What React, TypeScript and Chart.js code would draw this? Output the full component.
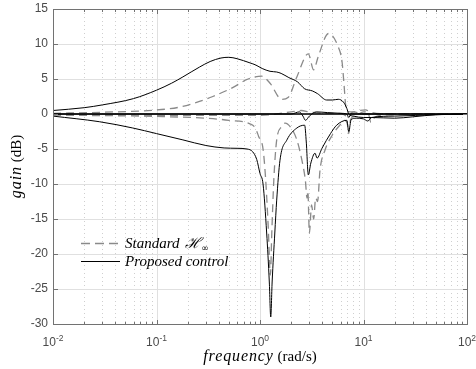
import React, { useEffect, useRef } from 'react';
import { Chart, registerables } from 'chart.js';
Chart.register(...registerables);

// ---- axis ticks ----
const xMajor = [0.01, 0.1, 1, 10, 100];
const xExp = ['-2', '-1', '0', '1', '2'];
const yMajor = [-30, -25, -20, -15, -10, -5, 0, 5, 10, 15];

// ---- Proposed control (solid) ----
const pUpFreq = [0.01, 0.02, 0.03, 0.06, 0.1, 0.14, 0.18, 0.26, 0.33, 0.42, 0.5, 0.6, 0.8, 0.91, 1.05, 1.25, 1.45, 1.6, 1.9, 2.3, 2.7, 3.2, 3.6, 4.4, 5.0, 5.7, 6.4, 6.9, 7.2, 8, 10, 12, 20, 30, 50, 100];
const pUpGain = [0.5, 0.9, 1.3, 2.2, 3.4, 4.4, 5.3, 6.7, 7.5, 8.0, 8.1, 7.9, 7.3, 7.0, 6.5, 6.1, 6.0, 5.8, 5.2, 4.6, 3.6, 3.3, 2.9, 2.0, 2.0, 2.1, 1.7, 0.8, 0.0, -0.3, -0.5, -0.5, -0.6, -0.4, -0.1, 0];

const pLoFreq = [0.01, 0.028, 0.059, 0.1, 0.18, 0.3, 0.45, 0.6, 0.75, 0.85, 0.93, 1.0, 1.07, 1.16, 1.23, 1.27, 1.31, 1.39, 1.45, 1.56, 1.82, 2.27, 2.7, 2.8, 2.93, 3.1, 3.4, 3.56, 3.97, 4.8, 5.5, 6.9, 7.2, 7.6, 8.5, 10, 11, 12, 20, 50, 100];
const pLoGain = [-0.3, -1.1, -2.0, -2.8, -3.7, -4.5, -4.85, -4.9, -5.0, -5.4, -6.5, -8.5, -10, -17, -24, -29, -24, -17, -12.3, -6.6, -3.7, -2.0, -1.6, -4.0, -8.7, -7.0, -5.6, -6.3, -4.9, -2.8, -1.6, -0.9, -2.5, -0.8, -0.6, -0.7, -1.0, -0.5, -0.3, -0.1, 0];

const pMidFreq = [0.01, 2.0, 2.4, 2.6, 2.75, 3.0, 3.5, 4.5, 6.0, 6.9, 7.2, 7.6, 100];
const pMidGain = [0, 0, 0.3, -0.3, -0.9, -0.3, 0.3, 0.2, 0.1, 0, -0.5, 0, 0];

const pZeroFreq = [0.01, 100];
const pZeroGain = [0, 0];

// ---- Standard H-infinity (dashed) ----
const sUpFreq = [0.01, 0.03, 0.1, 0.17, 0.26, 0.35, 0.55, 0.74, 0.9, 1.04, 1.25, 1.62, 1.88, 2.27, 2.93, 3.3, 3.65, 4.6, 5.7, 6.2, 6.5, 6.7, 6.9, 8, 9, 10.5, 11.5, 15, 100];
const sUpGain = [0.1, 0.25, 0.57, 1.0, 1.8, 2.5, 3.8, 4.9, 5.3, 5.4, 4.4, 2.1, 2.4, 5.3, 8.6, 6.3, 8.2, 11.5, 9.6, 7.5, 4.0, 1.5, 0.4, 0.3, 0.5, 0.6, 0.3, 0.05, 0];

const sLoFreq = [0.01, 0.1, 0.3, 0.5, 0.8, 0.9, 0.97, 1.07, 1.13, 1.2, 1.26, 1.3, 1.36, 1.45, 1.62, 1.75, 2.0, 2.27, 2.54, 2.74, 2.85, 2.9, 3.0, 3.15, 3.3, 3.45, 3.6, 3.8, 4.26, 5.0, 5.9, 6.6, 7.0, 7.2, 7.5, 8.5, 10, 11, 11.8, 13, 20, 100];
const sLoGain = [-0.15, -0.35, -0.6, -0.9, -1.4, -2.0, -3.2, -5.0, -9.0, -16, -23, -17, -9.4, -3.7, -1.8, -1.3, -2.0, -3.7, -6.6, -9.4, -12, -11, -17, -13, -15, -12, -12.5, -8, -5.1, -3.0, -1.6, -0.9, -1.5, -2.8, -0.8, -0.2, 0.3, 0.3, -1.2, -0.4, -0.1, 0];

const sMidFreq = [0.01, 0.3, 1.0, 2.0, 2.5, 3.0, 4.0, 6.0, 7.0, 8.0, 10, 100];
const sMidGain = [-0.1, -0.2, -0.2, 0.3, 0.5, 0.3, 0.1, 0.1, -0.3, 0.3, 0, 0];

const toPts = (f: number[], g: number[]) => f.map((v, i) => ({ x: v, y: g[i] }));

const SOLID = '#000000';
const DASH = '#8a8a8a';
const AXIS = '#727272';
const LABEL = '#4a4a4a';

const decor = {
  id: 'decor',
  beforeDatasetsDraw(chart: any) {
    const { ctx, chartArea: a, scales } = chart;
    const x = scales.x, y = scales.y;
    ctx.save();
    ctx.lineWidth = 1;
    ctx.strokeStyle = '#cfcfcf';
    ctx.setLineDash([1, 3]);
    for (let d = -2; d < 2; d++) {
      for (let k = 2; k <= 9; k++) {
        const px = Math.round(x.getPixelForValue(k * Math.pow(10, d))) + 0.5;
        ctx.beginPath(); ctx.moveTo(px, a.top); ctx.lineTo(px, a.bottom); ctx.stroke();
      }
    }
    ctx.setLineDash([]);
    ctx.strokeStyle = '#e0e0e0';
    xMajor.forEach((v) => {
      const px = Math.round(x.getPixelForValue(v)) + 0.5;
      ctx.beginPath(); ctx.moveTo(px, a.top); ctx.lineTo(px, a.bottom); ctx.stroke();
    });
    yMajor.forEach((v) => {
      const py = Math.round(y.getPixelForValue(v)) + 0.5;
      ctx.beginPath(); ctx.moveTo(a.left, py); ctx.lineTo(a.right, py); ctx.stroke();
    });
    ctx.restore();
  },
  afterDatasetsDraw(chart: any) {
    const { ctx, chartArea: a, scales } = chart;
    const x = scales.x, y = scales.y;
    ctx.save();
    ctx.strokeStyle = AXIS;
    ctx.lineWidth = 1;
    ctx.strokeRect(Math.round(a.left) + 0.5, Math.round(a.top) + 0.5, Math.round(a.right - a.left), Math.round(a.bottom - a.top));
    const tick = (x1: number, y1: number, x2: number, y2: number) => {
      ctx.beginPath(); ctx.moveTo(x1, y1); ctx.lineTo(x2, y2); ctx.stroke();
    };
    const B = Math.round(a.bottom) + 0.5, T = Math.round(a.top) + 0.5;
    const L = Math.round(a.left) + 0.5, R = Math.round(a.right) + 0.5;
    for (let d = -2; d < 2; d++) {
      for (let k = 2; k <= 9; k++) {
        const px = Math.round(x.getPixelForValue(k * Math.pow(10, d))) + 0.5;
        tick(px, B, px, B - 2.5); tick(px, T, px, T + 2.5);
      }
    }
    xMajor.forEach((v) => {
      const px = Math.round(x.getPixelForValue(v)) + 0.5;
      tick(px, B, px, B - 4.5); tick(px, T, px, T + 4.5);
    });
    yMajor.forEach((v) => {
      const py = Math.round(y.getPixelForValue(v)) + 0.5;
      tick(L, py, L + 4.5, py); tick(R, py, R - 4.5, py);
    });
    ctx.fillStyle = LABEL;
    ctx.font = '12px "Liberation Sans", Arial, sans-serif';
    ctx.textAlign = 'right';
    ctx.textBaseline = 'middle';
    yMajor.forEach((v) => {
      ctx.fillText(String(v), a.left - 5, y.getPixelForValue(v));
    });
    ctx.textAlign = 'left';
    ctx.textBaseline = 'alphabetic';
    xMajor.forEach((v, i) => {
      const px = x.getPixelForValue(v);
      ctx.font = '12px "Liberation Sans", Arial, sans-serif';
      const w1 = ctx.measureText('10').width;
      ctx.font = '8.5px "Liberation Sans", Arial, sans-serif';
      const w2 = ctx.measureText(xExp[i]).width;
      const sx = px - (w1 + w2) / 2;
      ctx.font = '12px "Liberation Sans", Arial, sans-serif';
      ctx.fillText('10', sx, a.bottom + 22);
      ctx.font = '8.5px "Liberation Sans", Arial, sans-serif';
      ctx.fillText(xExp[i], sx + w1, a.bottom + 16.5);
    });
    ctx.fillStyle = '#000';
    const mathIt = 'italic 16px "Liberation Serif", "Times New Roman", serif';
    const ital = 'italic 15px "Liberation Serif", "Times New Roman", serif';
    const rom = '15px "Liberation Serif", "Times New Roman", serif';
    const LS = '0.9px';
    (ctx as any).letterSpacing = LS;
    ctx.font = mathIt;
    const wf = ctx.measureText('frequency').width;
    (ctx as any).letterSpacing = '0px';
    ctx.font = rom;
    const wr = ctx.measureText(' (rad/s)').width;
    const cx = (a.left + a.right) / 2;
    const tx = cx - (wf + wr) / 2;
    const ty = 361;
    (ctx as any).letterSpacing = LS;
    ctx.font = mathIt;
    ctx.fillText('frequency', tx, ty);
    (ctx as any).letterSpacing = '0px';
    ctx.font = rom;
    ctx.fillText(' (rad/s)', tx + wf, ty);
    ctx.save();
    ctx.translate(21, (a.top + a.bottom) / 2);
    ctx.rotate(-Math.PI / 2);
    (ctx as any).letterSpacing = LS;
    ctx.font = mathIt;
    const wg = ctx.measureText('gain').width;
    (ctx as any).letterSpacing = '0px';
    ctx.font = rom;
    const wd = ctx.measureText(' (dB)').width;
    const gx = -(wg + wd) / 2;
    (ctx as any).letterSpacing = LS;
    ctx.font = mathIt;
    ctx.fillText('gain', gx, 0);
    (ctx as any).letterSpacing = '0px';
    ctx.font = rom;
    ctx.fillText(' (dB)', gx + wg, 0);
    ctx.restore();
    // legend
    const lx1 = 81, lx2 = 120, txs = 125;
    ctx.lineWidth = 1.3;
    ctx.strokeStyle = DASH;
    ctx.setLineDash([9, 5]);
    tick(lx1, 243.5, lx2, 243.5);
    ctx.setLineDash([]);
    ctx.lineWidth = 1;
    ctx.strokeStyle = SOLID;
    tick(lx1, 261.5, lx2, 261.5);
    ctx.fillStyle = '#000';
    ctx.font = ital;
    ctx.fillText('Standard', txs, 248);
    const ws = ctx.measureText('Standard ').width;
    ctx.font = 'italic 15px "DejaVu Serif", serif';
    ctx.fillText('\u210B', txs + ws + 2, 248);
    const wh = ctx.measureText('\u210B').width;
    ctx.font = '9px "DejaVu Sans", serif';
    ctx.fillText('\u221E', txs + ws + 2 + wh, 251);
    ctx.font = ital;
    ctx.fillText('Proposed control', txs, 266);
    ctx.restore();
  },
};

export default function App() {
  const ref = useRef<HTMLCanvasElement | null>(null);
  useEffect(() => {
    if (!ref.current) return;
    const solid = (d: any[], w = 1) => ({
      data: d, borderColor: SOLID, borderWidth: w, pointRadius: 0,
      cubicInterpolationMode: 'monotone', fill: false,
    });
    const dashed = (d: any[]) => ({
      data: d, borderColor: DASH, borderWidth: 1.3, borderDash: [8, 5], pointRadius: 0,
      cubicInterpolationMode: 'monotone', fill: false,
    });
    const chart = new Chart(ref.current, {
      type: 'line',
      data: {
        datasets: [
          solid(toPts(pZeroFreq, pZeroGain), 1.5),
          solid(toPts(pUpFreq, pUpGain)),
          solid(toPts(pLoFreq, pLoGain)),
          solid(toPts(pMidFreq, pMidGain)),
          dashed(toPts(sUpFreq, sUpGain)),
          dashed(toPts(sLoFreq, sLoGain)),
          dashed(toPts(sMidFreq, sMidGain)),
        ] as any,
      },
      options: {
        animation: false,
        responsive: true,
        maintainAspectRatio: false,
        devicePixelRatio: 1,
        layout: { padding: { left: 53, top: 9, right: 9, bottom: 45 } },
        scales: {
          x: { type: 'logarithmic', min: 0.01, max: 100, display: false },
          y: { type: 'linear', min: -30, max: 15, display: false },
        },
        plugins: { legend: { display: false }, tooltip: { enabled: false } },
        events: [],
      },
      plugins: [decor],
    });
    return () => chart.destroy();
  }, []);
  return (
    <div style={{ position: 'fixed', left: 0, top: 0, width: 476, height: 369, background: '#fff' }}>
      <canvas ref={ref} />
    </div>
  );
}
